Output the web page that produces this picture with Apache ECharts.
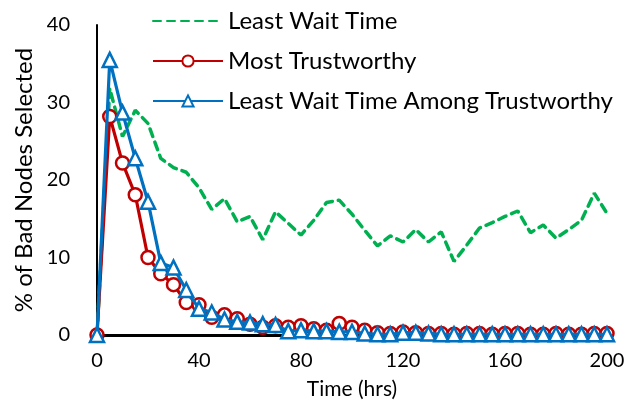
<!DOCTYPE html>
<html>
<head>
<meta charset="utf-8">
<script src="https://cdn.jsdelivr.net/npm/echarts@6/dist/echarts.min.js"></script>
<style>
  html, body { margin: 0; padding: 0; background: #fff; }
  #main { width: 628px; height: 405px; }
</style>
</head>
<body>
<div id="main"></div>
<script>
// time in hours
var times = [0, 5, 10, 15, 20, 25, 30, 35, 40, 45, 50, 55, 60, 65, 70, 75, 80, 85, 90, 95, 100,
  105, 110, 115, 120, 125, 130, 135, 140, 145, 150, 155, 160, 165, 170, 175, 180, 185, 190, 195, 200];

var leastWait = [0, 31.8, 25.6, 29, 27.3, 22.8, 21.6, 21, 19, 16.2, 17.6, 14.6, 15.3, 12.3, 15.9, 14.4,
  12.9, 14.8, 17.1, 17.4, 15.6, 13.5, 11.5, 12.8, 12.0, 13.6, 12.0, 13.3, 9.5, 11.6, 13.8, 14.5,
  15.3, 16.0, 13.2, 14.2, 12.5, 13.6, 14.8, 18.3, 15.7];

var mostTrust = [0, 28.2, 22.2, 18.1, 10.0, 7.9, 6.5, 4.2, 3.9, 2.3, 2.6, 2.1, 1.4, 1.0, 1.2, 1.0,
  1.2, 0.8, 0.6, 1.5, 1.0, 0.6, 0.3, 0.2, 0.4, 0.3, 0.2, 0.2, 0.1, 0.2, 0.2, 0.1, 0.2, 0.2, 0.1,
  0.1, 0.2, 0.1, 0.1, 0.2, 0.2];

var waitAmongTrust = [0, 35.5, 28.7, 22.8, 17.2, 9.3, 8.7, 5.8, 3.4, 2.9, 2.0, 1.7, 1.6, 1.4, 1.3, 0.5,
  0.6, 0.5, 0.5, 0.4, 0.4, 0.2, 0.1, 0.1, 0.3, 0.3, 0.2, 0.1, 0.1, 0.1, 0.1, 0.1, 0.1, 0.1, 0.1,
  0.1, 0.1, 0.1, 0.1, 0.1, 0.1];

var seriesNames = ['Least Wait Time', 'Most Trustworthy', 'Least Wait Time Among Trustworthy'];

function pairs(ys) {
  var out = [];
  for (var i = 0; i < times.length; i++) {
    out.push([times[i], ys[i]]);
  }
  return out;
}

var font = 'Lato, "Open Sans", sans-serif';
var myChart = echarts.init(document.getElementById('main'), null, {renderer: 'canvas'});

var option = {
  backgroundColor: '#fff',
  animation: false,
  textStyle: { fontFamily: font },
  grid: { left: 97, right: 21, top: 25, bottom: 70 },
  legend: {
    left: 147,
    top: 4,
    orient: 'vertical',
    itemWidth: 70,
    itemHeight: 14,
    itemGap: 16,
    textStyle: { fontFamily: font, fontSize: 24, color: '#000' },
    data: [
      { name: seriesNames[0], itemStyle: { color: 'rgba(0,0,0,0)', borderWidth: 0 } },
      { name: seriesNames[1] },
      { name: seriesNames[2] }
    ]
  },
  xAxis: {
    type: 'value',
    min: 0,
    max: 200,
    interval: 40,
    name: 'Time (hrs)',
    nameLocation: 'middle',
    nameGap: 44,
    nameTextStyle: { fontFamily: font, fontSize: 21, color: '#000' },
    axisLine: { show: true, onZero: false, lineStyle: { color: '#000', width: 3 } },
    axisTick: { show: false },
    splitLine: { show: false },
    axisLabel: { fontFamily: font, fontSize: 20, color: '#000', margin: 16 }
  },
  yAxis: {
    type: 'value',
    min: 0,
    max: 40,
    interval: 10,
    name: '% of Bad Nodes Selected',
    nameLocation: 'middle',
    nameGap: 56,
    nameTextStyle: { fontFamily: font, fontSize: 24, color: '#000' },
    axisLine: { show: true, lineStyle: { color: '#000', width: 2 } },
    axisTick: { show: false },
    splitLine: { show: false },
    axisLabel: { fontFamily: font, fontSize: 20, color: '#000', margin: 27 }
  },
  series: [
    {
      name: seriesNames[0],
      type: 'line',
      data: pairs(leastWait),
      symbol: 'none',
      color: '#00B050',
      lineStyle: { color: '#00B050', width: 3.5, type: [8, 6], cap: 'round' },
      z: 2
    },
    {
      name: seriesNames[1],
      type: 'line',
      data: pairs(mostTrust),
      symbol: 'circle',
      symbolSize: 13,
      color: '#C00000',
      itemStyle: { color: '#fff', borderColor: '#C00000', borderWidth: 2.5 },
      lineStyle: { color: '#C00000', width: 3.2 },
      z: 3
    },
    {
      name: seriesNames[2],
      type: 'line',
      data: pairs(waitAmongTrust),
      symbol: 'triangle',
      symbolSize: 14,
      color: '#0070C0',
      itemStyle: { color: '#fff', borderColor: '#0070C0', borderWidth: 2.5 },
      lineStyle: { color: '#0070C0', width: 3.2 },
      z: 4
    }
  ]
};

myChart.setOption(option);
</script>
</body>
</html>
